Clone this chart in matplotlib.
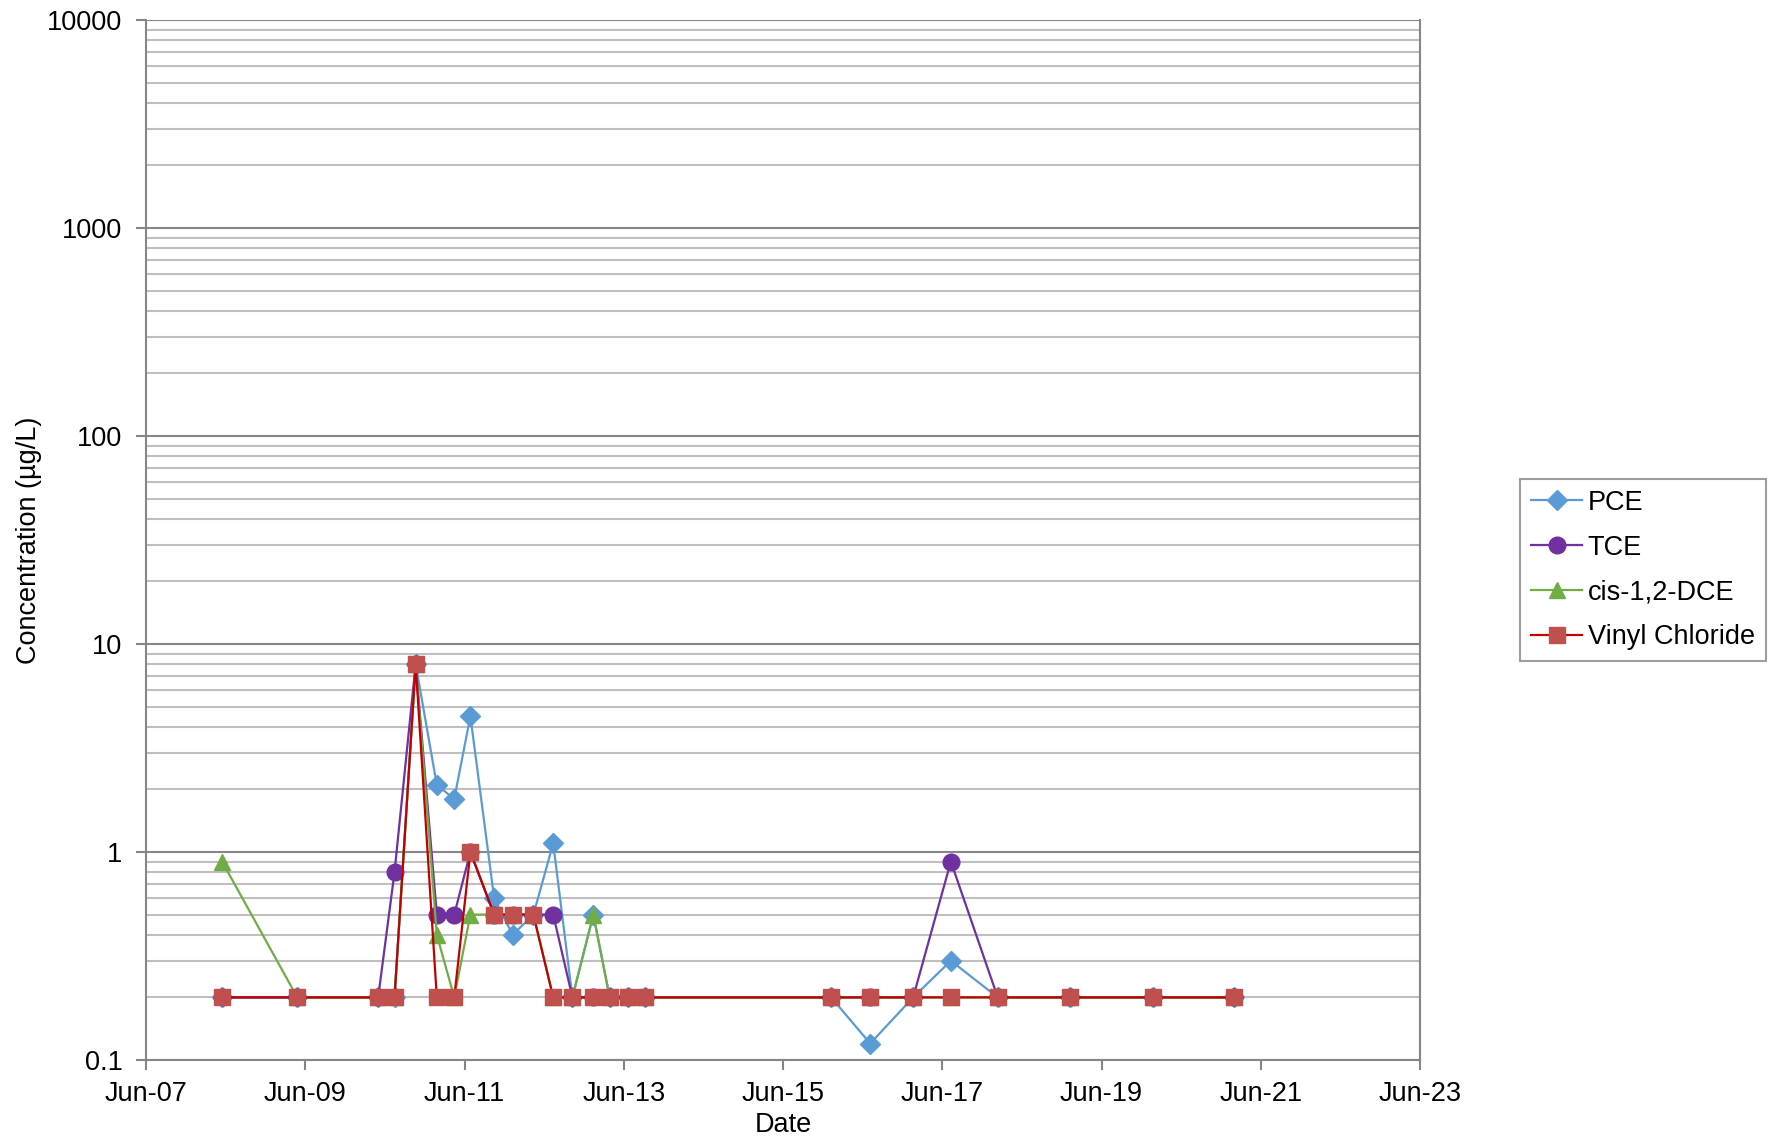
import matplotlib
matplotlib.use('Agg')
import matplotlib.pyplot as plt
import matplotlib.dates as mdates
import matplotlib.ticker as ticker
import numpy as np
import pandas as pd

plt.rcParams['font.family'] = ['Liberation Sans', 'DejaVu Sans']

# --- dados ---
datas = pd.to_datetime([
    '2008-05-15', '2009-04-25', '2010-05-01', '2010-07-15', '2010-10-20',
    '2011-01-25', '2011-04-15', '2011-06-28', '2011-10-15', '2012-01-08',
    '2012-04-12', '2012-07-12', '2012-10-08', '2013-01-12', '2013-03-28',
    '2013-06-18', '2013-09-05', '2016-01-08', '2016-07-05', '2017-01-18',
    '2017-07-10', '2018-02-10', '2019-01-08', '2020-01-22', '2021-01-30',
])

pce = [0.2, 0.2, 0.2, 0.2, 8, 2.1, 1.8, 4.5, 0.6, 0.4, 0.5, 1.1, 0.2, 0.5, 0.2,
       0.2, 0.2, 0.2, 0.12, 0.2, 0.3, 0.2, 0.2, 0.2, 0.2]
tce = [0.2, 0.2, 0.2, 0.8, 8, 0.5, 0.5, 1.0, 0.5, 0.5, 0.5, 0.5, 0.2, 0.2, 0.2,
       0.2, 0.2, 0.2, 0.2, 0.2, 0.9, 0.2, 0.2, 0.2, 0.2]
dce = [0.9, 0.2, 0.2, 0.2, 8, 0.4, 0.2, 0.5, 0.5, 0.5, 0.5, 0.2, 0.2, 0.5, 0.2,
       0.2, 0.2, 0.2, 0.2, 0.2, 0.2, 0.2, 0.2, 0.2, 0.2]
vc = [0.2, 0.2, 0.2, 0.2, 8, 0.2, 0.2, 1.0, 0.5, 0.5, 0.5, 0.2, 0.2, 0.2, 0.2,
      0.2, 0.2, 0.2, 0.2, 0.2, 0.2, 0.2, 0.2, 0.2, 0.2]

# ticks do eixo X: junho a cada 2 anos
ticks_x = pd.to_datetime([f'{a}-06-01' for a in range(2007, 2024, 2)])

series = [
    ('PCE', pce, '#5B9BD5', '#5B9BD5', 'D', 10),
    ('TCE', tce, '#7030A0', '#7030A0', 'o', 12),
    ('cis-1,2-DCE', dce, '#70AD47', '#70AD47', '^', 12),
    ('Vinyl Chloride', vc, '#C00000', '#C0504D', 's', 11),
]

COR_EIXO = '#868686'
FONTE = 19.5

fig = plt.figure(figsize=(17.76, 11.4), dpi=100)
ax = fig.add_axes([146 / 1776, 1 - 1060 / 1140, (1420 - 146) / 1776, (1060 - 20) / 1140])

for nome, vals, cor_linha, cor_marca, marca, tam in series:
    ax.plot(datas, vals, color=cor_linha, linewidth=1.6, marker=marca,
            markersize=tam, markerfacecolor=cor_marca, markeredgecolor=cor_marca,
            label=nome, zorder=3)

ax.set_yscale('log')
ax.set_ylim(0.1, 10000)
ax.set_xlim(ticks_x[0], ticks_x[-1])

ax.xaxis.set_major_locator(ticker.FixedLocator(mdates.date2num(ticks_x)))
ax.xaxis.set_major_formatter(mdates.DateFormatter('%b-%y'))
ax.yaxis.set_major_formatter(ticker.FuncFormatter(lambda v, p: f'{v:g}'))
ax.yaxis.set_minor_locator(ticker.LogLocator(base=10, subs=np.arange(2, 10)))
ax.yaxis.set_minor_formatter(ticker.NullFormatter())

# grade
ax.grid(which='major', axis='y', color=COR_EIXO, linewidth=1.5, zorder=1)
ax.grid(which='minor', axis='y', color='#BFBFBF', linewidth=1.5, zorder=1)
ax.set_axisbelow(True)

for lado in ['left', 'bottom', 'right']:
    ax.spines[lado].set_color(COR_EIXO)
    ax.spines[lado].set_linewidth(1.5)
ax.spines['top'].set_visible(False)

ax.tick_params(axis='both', which='major', direction='out', length=7, width=1.5,
               color=COR_EIXO, labelsize=FONTE)
ax.tick_params(axis='y', which='major', pad=10)
ax.tick_params(axis='x', which='major', pad=8)
ax.tick_params(axis='y', which='minor', length=0)

ax.set_xlabel('Date', fontsize=FONTE, labelpad=4)
ax.set_ylabel('Concentration (µg/L)', fontsize=FONTE, labelpad=4)

leg = ax.legend(loc='center left', bbox_to_anchor=(1520 / 1776, 0.5),
                bbox_transform=fig.transFigure, fontsize=FONTE, frameon=True,
                fancybox=False, edgecolor=COR_EIXO, handlelength=1.9,
                handletextpad=0.2, labelspacing=0.7, borderpad=0.4,
                borderaxespad=0)
leg.get_frame().set_linewidth(1.5)

fig.savefig('out.png', dpi=100)
